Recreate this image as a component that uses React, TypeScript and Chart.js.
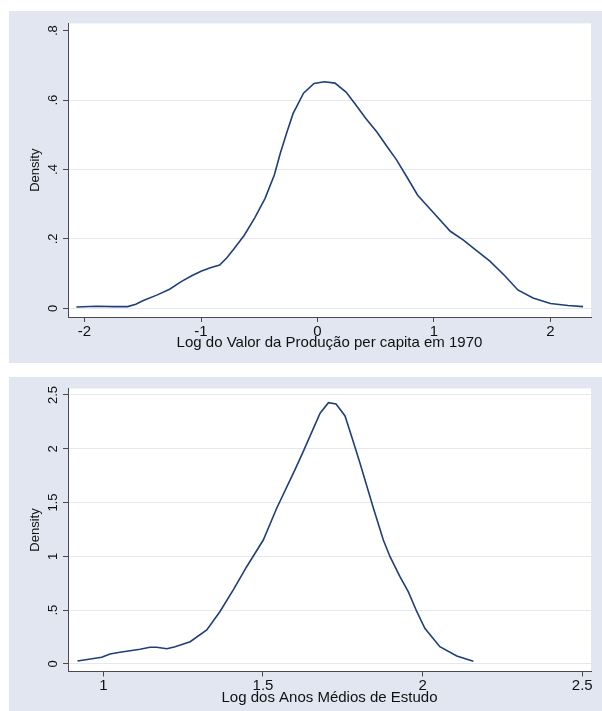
import React, { useEffect, useRef } from 'react';
import { Chart, registerables } from 'chart.js';

Chart.register(...registerables);

// ---------- data ----------
const topLogValor = [
  -2.07, -1.9, -1.75, -1.63, -1.56, -1.5, -1.38, -1.27, -1.17, -1.08, -1.0, -0.92, -0.84, -0.78,
  -0.72, -0.63, -0.54, -0.45, -0.37, -0.32, -0.265, -0.21, -0.12, -0.03, 0.06, 0.15, 0.245, 0.32, 0.415,
  0.51, 0.595, 0.68, 0.775, 0.86, 1.0, 1.14, 1.25, 1.36, 1.48, 1.61, 1.72, 1.85, 2.0, 2.15, 2.28,
];
const topDensity = [
  0.004, 0.006, 0.005, 0.005, 0.012, 0.022, 0.038, 0.055, 0.077, 0.094, 0.107, 0.117, 0.125, 0.145,
  0.17, 0.21, 0.26, 0.317, 0.385, 0.446, 0.505, 0.561, 0.62, 0.648, 0.653, 0.649, 0.623, 0.59, 0.547,
  0.508, 0.467, 0.427, 0.374, 0.326, 0.274, 0.222, 0.197, 0.168, 0.136, 0.093, 0.053, 0.03, 0.014, 0.008, 0.005,
];

const bottomLogAnos = [
  0.919, 0.995, 1.021, 1.052, 1.115, 1.146, 1.167, 1.199, 1.225, 1.272, 1.324, 1.365, 1.407, 1.449,
  1.501, 1.543, 1.6, 1.626, 1.679, 1.705, 1.729, 1.757, 1.778, 1.804, 1.846, 1.877, 1.898, 1.929,
  1.955, 1.982, 2.007, 2.054, 2.107, 2.159,
];
const bottomDensity = [
  0.028, 0.062, 0.093, 0.109, 0.137, 0.155, 0.155, 0.142, 0.161, 0.207, 0.316, 0.486, 0.688, 0.904,
  1.152, 1.447, 1.803, 1.973, 2.33, 2.428, 2.416, 2.305, 2.112, 1.865, 1.447, 1.152, 0.997, 0.811,
  0.672, 0.486, 0.332, 0.161, 0.074, 0.025,
];

const topXTicks = [-2, -1, 0, 1, 2];
const topYTicks = [0, 0.2, 0.4, 0.6, 0.8];
const bottomXTicks = [1, 1.5, 2, 2.5];
const bottomYTicks = [0, 0.5, 1, 1.5, 2, 2.5];

const topXTitle = 'Log do Valor da Produção per capita em 1970';
const bottomXTitle = 'Log dos Anos Médios de Estudo';
const yTitle = 'Density';

// ---------- styles ----------
const PANEL_BG = '#e1e6f0';
const GRID = '#e2e7f0';
const AXIS = '#4a4a4a';
const LINE = '#1f3f78';
const TEXT = '#111111';
const FONT = "'Liberation Sans', Arial, sans-serif";

function stataFmt(v: number): string {
  let s = String(+v.toFixed(3));
  if (s.startsWith('0.')) s = s.slice(1);
  else if (s.startsWith('-0.')) s = '-' + s.slice(2);
  return s;
}

const plotBgPlugin = {
  id: 'plotBg',
  beforeDraw(chart: any) {
    const { ctx, chartArea } = chart;
    if (!chartArea) return;
    ctx.save();
    ctx.fillStyle = '#ffffff';
    ctx.fillRect(chartArea.left, chartArea.top, chartArea.right - chartArea.left, chartArea.bottom - chartArea.top);
    ctx.restore();
  },
};

type Spec = {
  xs: number[];
  ys: number[];
  xTicks: number[];
  yTicks: number[];
  xMin: number;
  xMax: number;
  yMin: number;
  yMax: number;
  xTitle: string;
  noGrid: number[];
  padTop: number;
  padRight: number;
  yAxisWidth: number;
  xAxisHeight: number;
  xTickPad: number;
  xTitlePad: number;
  yTickPad: number;
};

function buildConfig(s: Spec): any {
  return {
    type: 'line',
    data: {
      datasets: [
        {
          data: s.xs.map((x, i) => ({ x, y: s.ys[i] })),
          borderColor: LINE,
          borderWidth: 1.6,
          pointRadius: 0,
          tension: 0,
          fill: false,
        },
      ],
    },
    options: {
      responsive: false,
      animation: false,
      events: [],
      layout: { padding: { left: 0, right: s.padRight, top: s.padTop, bottom: 0 } },
      plugins: { legend: { display: false }, tooltip: { enabled: false }, title: { display: false } },
      scales: {
        x: {
          type: 'linear',
          position: 'bottom',
          min: s.xMin,
          max: s.xMax,
          afterBuildTicks: (sc: any) => {
            sc.ticks = s.xTicks.map((v) => ({ value: v }));
          },
          afterFit: (sc: any) => {
            sc.height = s.xAxisHeight;
          },
          grid: { drawOnChartArea: false, drawTicks: true, tickLength: 5, tickColor: AXIS, tickWidth: 1 },
          border: { display: true, color: AXIS, width: 1 },
          ticks: {
            autoSkip: false,
            minRotation: 0,
            maxRotation: 0,
            padding: s.xTickPad,
            color: TEXT,
            font: { family: FONT, size: 15 },
            callback: (v: any) => stataFmt(Number(v)),
          },
          title: {
            display: true,
            text: s.xTitle,
            color: TEXT,
            font: { family: FONT, size: 15 },
            padding: { top: 0, bottom: s.xTitlePad },
          },
        },
        y: {
          type: 'linear',
          position: 'left',
          min: s.yMin,
          max: s.yMax,
          afterBuildTicks: (sc: any) => {
            sc.ticks = s.yTicks.map((v) => ({ value: v }));
          },
          afterFit: (sc: any) => {
            sc.width = s.yAxisWidth;
          },
          grid: {
            color: (c: any) => (c.tick && s.noGrid.includes(c.tick.value) ? 'rgba(0,0,0,0)' : GRID),
            lineWidth: 1,
            drawTicks: true,
            tickLength: 5,
            tickColor: AXIS,
            tickWidth: 1,
          },
          border: { display: true, color: AXIS, width: 1 },
          ticks: {
            autoSkip: false,
            minRotation: 90,
            maxRotation: 90,
            crossAlign: 'center',
            padding: s.yTickPad,
            color: TEXT,
            font: { family: FONT, size: 13 },
            callback: (v: any) => stataFmt(Number(v)),
          },
          title: {
            display: true,
            text: yTitle,
            color: TEXT,
            font: { family: FONT, size: 13 },
            padding: { top: 19, bottom: 0 },
          },
        },
      },
    },
    plugins: [plotBgPlugin],
  };
}

const topSpec: Spec = {
  xs: topLogValor,
  ys: topDensity,
  xTicks: topXTicks,
  yTicks: topYTicks,
  xMin: -2.142,
  xMax: 2.348,
  yMin: -0.025,
  yMax: 0.821,
  xTitle: topXTitle,
  noGrid: [0.8],
  padTop: 12,
  padRight: 11,
  yAxisWidth: 59,
  xAxisHeight: 46,
  xTickPad: 0.8,
  xTitlePad: 10.9,
  yTickPad: 4.6,
};

const bottomSpec: Spec = {
  xs: bottomLogAnos,
  ys: bottomDensity,
  xTicks: bottomXTicks,
  yTicks: bottomYTicks,
  xMin: 0.8894,
  xMax: 2.5274,
  yMin: -0.0697,
  yMax: 2.56,
  xTitle: bottomXTitle,
  noGrid: [],
  padTop: 11.5,
  padRight: 11,
  yAxisWidth: 59,
  xAxisHeight: 39.5,
  xTickPad: 0,
  xTitlePad: 3.8,
  yTickPad: 1,
};

function Panel({ spec, left, top, width, height }: { spec: Spec; left: number; top: number; width: number; height: number }) {
  const ref = useRef<HTMLCanvasElement | null>(null);
  useEffect(() => {
    if (!ref.current) return;
    const chart = new Chart(ref.current, buildConfig(spec));
    return () => chart.destroy();
  }, [spec]);
  return (
    <canvas
      ref={ref}
      width={width}
      height={height}
      style={{ position: 'absolute', left, top, width, height, background: PANEL_BG, display: 'block' }}
    />
  );
}

export default function App() {
  return (
    <div style={{ position: 'absolute', left: 0, top: 0, width: 602, height: 711, background: '#ffffff', overflow: 'hidden' }}>
      <Panel spec={topSpec} left={9} top={11} width={593} height={352} />
      <Panel spec={bottomSpec} left={9} top={377} width={593} height={334} />
    </div>
  );
}
